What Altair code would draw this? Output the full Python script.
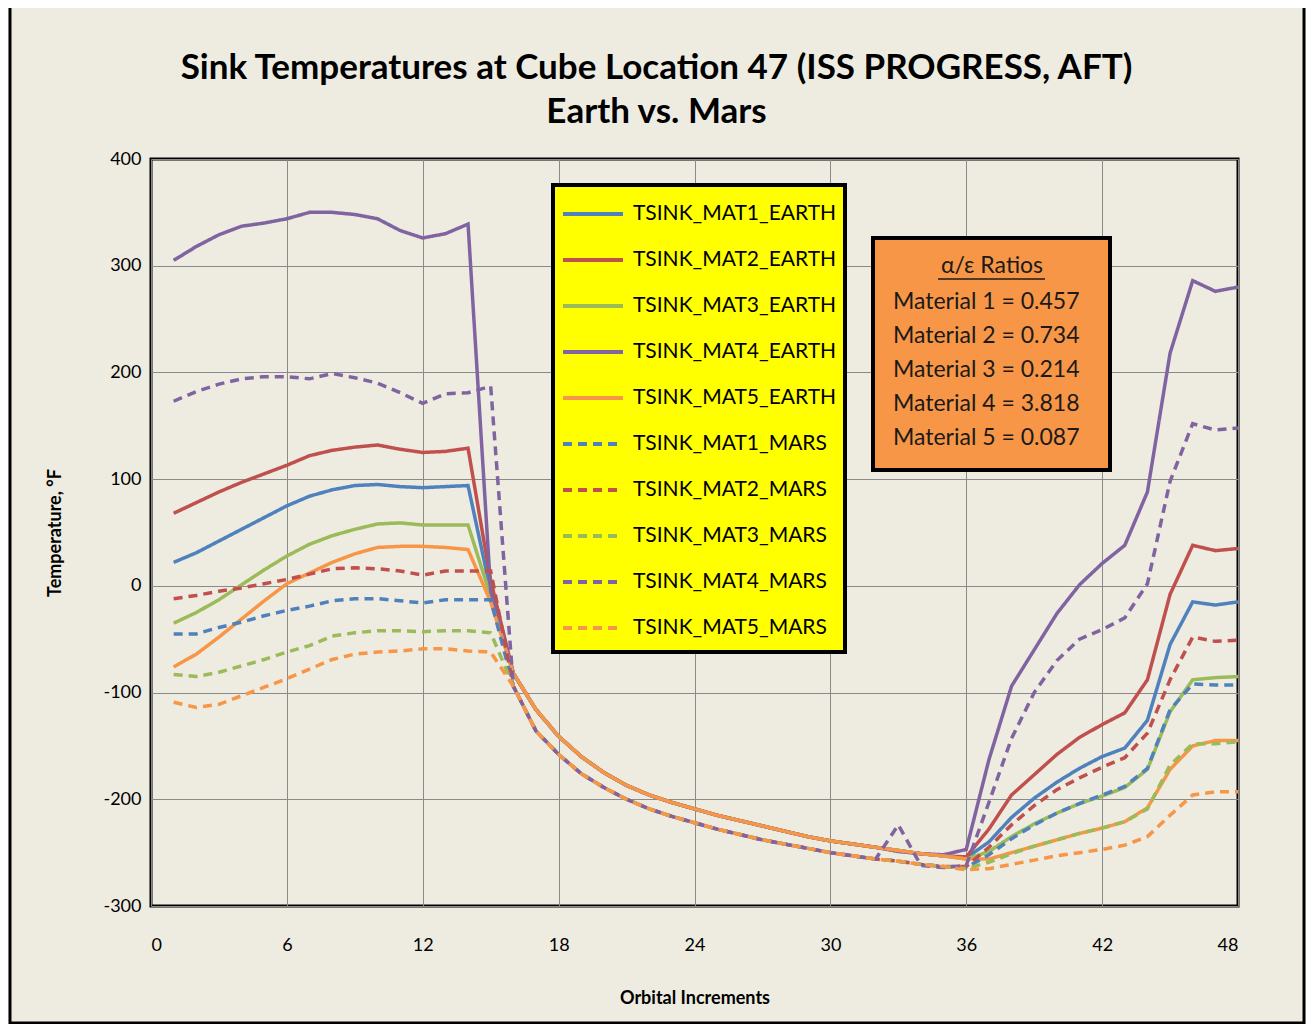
import altair as alt
import pandas as pd

# ---------------- data ----------------
INCREMENTS = list(range(1, 49))

SERIES = [
    "TSINK_MAT1_EARTH", "TSINK_MAT2_EARTH", "TSINK_MAT3_EARTH",
    "TSINK_MAT4_EARTH", "TSINK_MAT5_EARTH",
    "TSINK_MAT1_MARS", "TSINK_MAT2_MARS", "TSINK_MAT3_MARS",
    "TSINK_MAT4_MARS", "TSINK_MAT5_MARS",
]

# common cold-side curve (increments 16..35)
EARTH_MID = [-82, -116, -141, -160, -175, -187, -196, -203, -209, -215,
             -220, -225, -230, -235, -239, -242, -245, -248, -251, -253]
MARS_MID = [-94, -136, -158, -176, -189, -200, -209, -216, -222, -228,
            -233, -238, -242, -246, -250, -253, -256, -258, -261, -263]

MAT1_EARTH = ([22, 31, 42, 53, 64, 75, 84, 90, 94, 95, 93, 92, 93, 94, -5]
              + EARTH_MID
              + [-255, -240, -217, -199, -184, -171, -160, -152, -126, -55, -15, -18, -15])
MAT2_EARTH = ([68, 78, 88, 97, 105, 113, 122, 127, 130, 132, 128, 125, 126, 129, 5]
              + EARTH_MID
              + [-254, -228, -196, -177, -158, -142, -130, -119, -88, -8, 38, 33, 35])
MAT3_EARTH = ([-35, -25, -13, 1, 15, 28, 39, 47, 53, 58, 59, 57, 57, 57, -10]
              + EARTH_MID
              + [-256, -249, -235, -223, -213, -204, -197, -189, -172, -118, -88, -86, -85])
MAT4_EARTH = ([305, 318, 329, 337, 340, 344, 350, 350, 348, 344, 333, 326, 330, 339, -5]
              + EARTH_MID[:17] + [-249, -251, -252]
              + [-247, -163, -94, -60, -26, 1, 21, 38, 88, 218, 286, 276, 280])
MAT5_EARTH = ([-76, -64, -48, -31, -14, 2, 12, 22, 30, 36, 37, 37, 36, 34, -15]
              + EARTH_MID
              + [-256, -256, -250, -244, -238, -232, -227, -221, -208, -172, -150, -145, -145])

MAT1_MARS = ([-45, -45, -39, -34, -28, -23, -19, -14, -12, -12, -14, -16, -13, -13, -13]
             + MARS_MID
             + [-264, -252, -237, -224, -213, -204, -196, -188, -171, -116, -92, -93, -93])
MAT2_MARS = ([-12, -9, -5, -2, 2, 6, 11, 16, 17, 16, 14, 10, 14, 14, 14]
             + MARS_MID
             + [-263, -245, -224, -206, -191, -180, -170, -161, -138, -88, -48, -52, -51])
MAT3_MARS = ([-83, -85, -81, -75, -69, -62, -56, -47, -44, -42, -42, -43, -42, -42, -44]
             + MARS_MID
             + [-265, -259, -251, -244, -238, -232, -227, -221, -209, -168, -148, -148, -146])
MAT4_MARS = ([173, 182, 189, 194, 196, 196, 194, 199, 195, 190, 181, 171, 180, 181, 187]
             + MARS_MID[:16] + [-256, -224, -262, -264]
             + [-262, -203, -143, -100, -70, -50, -41, -30, 2, 98, 152, 146, 148])
MAT5_MARS = ([-109, -114, -111, -103, -95, -87, -78, -69, -64, -62, -61, -59, -59, -61, -62]
             + MARS_MID
             + [-266, -265, -261, -257, -253, -250, -247, -243, -235, -215, -196, -193, -193])

VALUES = [MAT1_EARTH, MAT2_EARTH, MAT3_EARTH, MAT4_EARTH, MAT5_EARTH,
          MAT1_MARS, MAT2_MARS, MAT3_MARS, MAT4_MARS, MAT5_MARS]

X_TICKS = [0, 6, 12, 18, 24, 30, 36, 42, 48]
Y_TICKS = [-300, -200, -100, 0, 100, 200, 300, 400]

RATIO_TITLE = "α/ε Ratios"
RATIO_LINES = ["Material 1 = 0.457", "Material 2 = 0.734", "Material 3 = 0.214",
               "Material 4 = 3.818", "Material 5 = 0.087"]

TITLE_LINES = ["Sink Temperatures at Cube Location 47 (ISS  PROGRESS, AFT)",
               "Earth vs. Mars"]

# ---------------- styles ----------------
COLORS = ["#4F81BD", "#C0504D", "#9BBB59", "#8064A2", "#F79646"] * 2
DASHES = [[1, 0]] * 5 + [[9, 6]] * 5
FONT = "Lato, sans-serif"
BG = "#EEECE1"

rows = []
for name, vals in zip(SERIES, VALUES):
    for xi, v in zip(INCREMENTS, vals):
        rows.append({"series": name, "x": xi, "y": v})
df = pd.DataFrame(rows)

W, H = 1087, 747

legend = alt.Legend(
    title=None, orient="none", legendX=404, legendY=17,
    padding=6, symbolType="stroke", symbolSize=3600, symbolStrokeWidth=4,
    labelFontSize=21, labelFont=FONT, labelColor="black", labelOffset=8,
    rowPadding=4, labelLimit=400,
)

lines = alt.Chart(df).mark_line(strokeWidth=3.5, clip=True).encode(
    x=alt.X("x:Q",
            scale=alt.Scale(domain=[0, 48], nice=False, zero=False),
            axis=alt.Axis(values=X_TICKS, title="Orbital Increments",
                          labelPadding=30, titleY=92, titleBaseline="middle")),
    y=alt.Y("y:Q",
            scale=alt.Scale(domain=[-300, 400], nice=False, zero=False),
            axis=alt.Axis(values=Y_TICKS, title="Temperature, °F",
                          labelExpr="'' + datum.value",
                          labelPadding=10, titleX=-96, titleY=H / 2,
                          titleAngle=270, titleAlign="center",
                          titleBaseline="middle")),
    color=alt.Color("series:N", scale=alt.Scale(domain=SERIES, range=COLORS),
                    legend=legend),
    strokeDash=alt.StrokeDash("series:N",
                              scale=alt.Scale(domain=SERIES, range=DASHES),
                              legend=legend),
)

one = pd.DataFrame({"k": [0]})

outer = alt.Chart(one).mark_rect(fillOpacity=0, stroke="black", strokeWidth=3).encode(
    x=alt.value(-141), x2=alt.value(1153), y=alt.value(-154), y2=alt.value(864)
)

legend_box = alt.Chart(one).mark_rect(fill="#FFFF00", stroke="black", strokeWidth=4).encode(
    x=alt.value(402), x2=alt.value(694), y=alt.value(26), y2=alt.value(493)
)

box = alt.Chart(one).mark_rect(fill="#F79646", stroke="black", strokeWidth=4).encode(
    x=alt.value(722), x2=alt.value(959), y=alt.value(79), y2=alt.value(311)
)
box_title = alt.Chart(one).mark_text(
    text=RATIO_TITLE, font=FONT, fontSize=23, color="#1a1a1a", baseline="middle"
).encode(x=alt.value(841), y=alt.value(107))
underline = alt.Chart(one).mark_rule(color="#1a1a1a", strokeWidth=1.5).encode(
    x=alt.value(787), x2=alt.value(894), y=alt.value(120)
)
text_layers = []
for i, t in enumerate(RATIO_LINES):
    text_layers.append(
        alt.Chart(one).mark_text(
            text=t, font=FONT, fontSize=23, color="#1a1a1a",
            align="left", baseline="middle"
        ).encode(x=alt.value(742), y=alt.value(143 + i * 34))
    )

chart = alt.layer(outer, lines, legend_box, box, underline, box_title, *text_layers).properties(
    width=W, height=H,
    autosize=alt.AutoSizeParams(type="none"),
    padding={"left": 143, "top": 151, "right": 68, "bottom": 118},
    title=alt.TitleParams(
        TITLE_LINES, fontSize=35, font=FONT, fontWeight="bold", color="black",
        anchor="middle", frame="group", dx=-38, dy=154, offset=0, lineHeight=44,
        baseline="alphabetic",
    ),
).configure(background=BG).configure_view(
    stroke="black", strokeWidth=3
).configure_axis(
    grid=True, gridColor="#8a8a8a", gridWidth=1, ticks=False, domain=False,
    labelFont=FONT, labelFontSize=18, labelColor="black",
    titleFont=FONT, titleFontSize=18, titleFontWeight="bold", titleColor="black",
)

chart.save("out.html", embed_options={"renderer": "svg", "actions": False})
